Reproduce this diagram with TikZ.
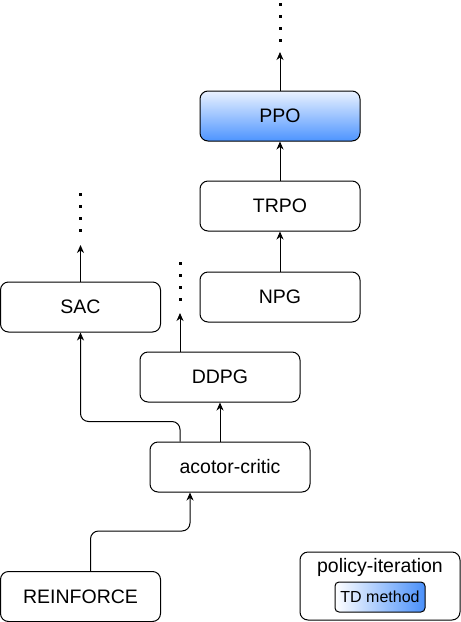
\documentclass[tikz,border=0pt]{standalone}
\usepackage{fontspec}
\setmainfont{Liberation Sans}
\usetikzlibrary{arrows.meta}
\definecolor{ppotop}{HTML}{EAF2FF}
\definecolor{ppobot}{HTML}{4D94FF}
\definecolor{tdblue}{HTML}{4A90FA}

\begin{document}
\begin{tikzpicture}[x=1pt,y=-1pt,
    algo/.style={draw, rounded corners=8pt, line width=1pt, minimum width=160pt,
      minimum height=50pt, inner sep=0pt, font=\fontsize{19.5}{23}\selectfont},
    link/.style={line width=1pt, -{Stealth[length=8pt,width=7pt,inset=2.5pt]}},
    more/.style={line width=3pt, dash pattern=on 3pt off 9pt}]
  \useasboundingbox (0,0) rectangle (461,622);

  % boxes
  \node[algo, top color=ppotop, bottom color=ppobot] (ppo) at (280,116) {PPO};
  \node[algo] (trpo) at (280,206) {TRPO};
  \node[algo] (npg) at (280,297) {NPG};
  \node[algo] (sac) at (80.5,307) {SAC};
  \node[algo] (ddpg) at (220,377) {DDPG};
  \node[algo] (ac) at (230,467) {acotor-critic};
  \node[algo] (rf) at (80.5,596.5) {REINFORCE};

  % open ends
  \coordinate (ppo-up) at (280,52);
  \coordinate (sac-up) at (80.5,245);
  \coordinate (ddpg-up) at (180,313);

  % links
  \draw[link] (npg) -- (trpo);
  \draw[link] (trpo) -- (ppo);
  \draw[link] (ppo) -- (ppo-up);
  \draw[link] (sac) -- (sac-up);
  \draw[link] ([xshift=-40pt]ddpg.north) -- (ddpg-up);
  \draw[link] ([xshift=-10pt]ac.north) -- (ddpg.south);
  \draw[link, rounded corners=8pt] ([xshift=-50pt]ac.north) -- ++(0,-20) -| (sac.south);
  \draw[link, rounded corners=8pt] ([xshift=10pt]rf.north) -- ++(0,-40) -| ([xshift=-40pt]ac.south);

  % dots
  \draw[more] ([yshift=10.5pt]ppo-up) -- ++(0,-39);
  \draw[more] ([yshift=13.5pt]sac-up) -- ++(0,-39);
  \draw[more] ([yshift=12.5pt]ddpg-up) -- ++(0,-39);

  % legend
  \node[draw, rounded corners=8pt, line width=1pt, minimum width=160pt,
    minimum height=68pt] (key) at (380,586) {};
  \node[font=\fontsize{19.5}{23}\selectfont] (keytitle) at (380,567) {policy-iteration};
  \node[draw, rounded corners=4pt, line width=1pt, minimum width=90pt, minimum height=30pt,
    inner sep=0pt, left color=white, right color=tdblue,
    font=\fontsize{16}{19}\selectfont] (td) at (380,597) {TD method};
\end{tikzpicture}
\end{document}
